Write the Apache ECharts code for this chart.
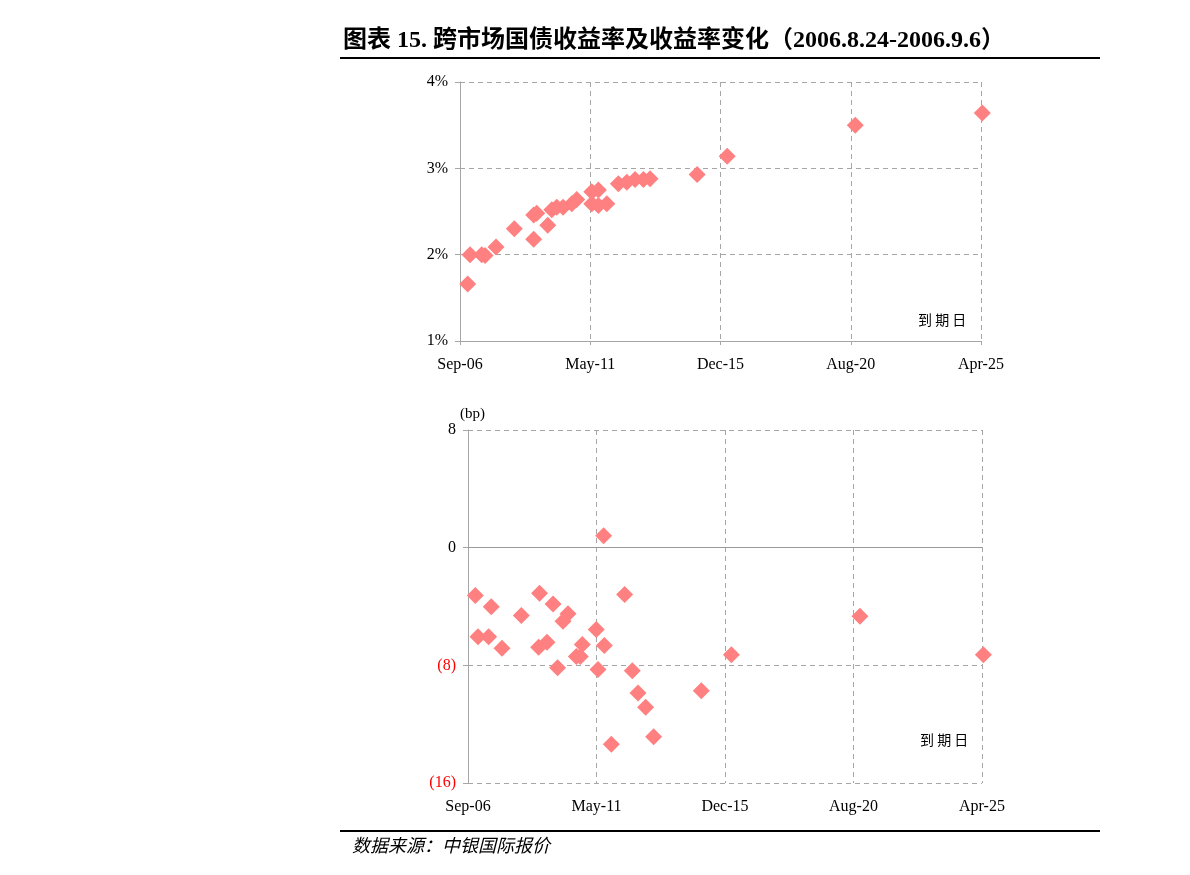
<!DOCTYPE html>
<html>
<head>
<meta charset="utf-8">
<script src="https://cdn.jsdelivr.net/npm/echarts@6/dist/echarts.min.js"></script>
<style>
html,body{margin:0;padding:0;background:#fff;}
#chart{width:1190px;height:875px;}
</style>
</head>
<body>
<div id="chart"></div>
<script>
// x values: days to maturity counted from 2006-09-06 (axis start)
const tickLabels = ['Sep-06', 'May-11', 'Dec-15', 'Aug-20', 'Apr-25'];
const tickStepDays = 1700;

// Top chart: yield (%) by maturity
const yieldDays = [100,131,283,327,470,709,962,962,1002,1145,1198,1263,1345,1459,1524,1720,1806,1720,1806,1916,2067,2177,2285,2394,2481,3095,3487,5159,6817];
const yieldPct  = [1.66,2.00,2.00,1.99,2.09,2.30,2.18,2.46,2.48,2.34,2.52,2.55,2.55,2.59,2.64,2.73,2.75,2.59,2.57,2.59,2.82,2.84,2.87,2.87,2.88,2.93,3.14,3.50,3.64];

// Bottom chart: yield change (bp) by maturity
const changeDays = [97,132,273,308,450,705,934,947,1045,1125,1185,1257,1323,1433,1486,1512,1697,1720,1794,1803,1896,2072,2174,2249,2350,2456,3087,3484,5185,6818];
const changeBp   = [-3.26,-6.05,-6.05,-4.01,-6.84,-4.62,-6.77,-3.10,-6.43,-3.83,-8.17,-5.00,-4.50,-7.40,-7.40,-6.59,-5.57,-8.29,0.81,-6.66,-13.36,-3.19,-8.36,-9.88,-10.85,-12.86,-9.73,-7.28,-4.67,-7.28];

const titleText = '图表 15. 跨市场国债收益率及收益率变化（2006.8.24-2006.9.6）';
const sourceText = '数据来源：中银国际报价';
const xName = '到 期 日';
const yUnit = '(bp)';

const pts = (xs, ys) => xs.map((x, i) => [x, ys[i]]);
const gridColor = '#A6A6A6';
const serif = "'Liberation Serif','Times New Roman',serif";
const markColor = '#FF8080';

const xAxisBase = (gi) => ({
  type: 'value', gridIndex: gi, min: 0, max: tickStepDays * 4, interval: tickStepDays,
  axisLabel: {
    fontFamily: serif, fontSize: 16, color: '#000', margin: 16,
    formatter: v => tickLabels[Math.round(v / tickStepDays)] || ''
  },
  splitLine: { show: true, lineStyle: { color: gridColor, type: [5, 4], width: 1 } }
});

const chart = echarts.init(document.getElementById('chart'));
chart.setOption({
  animation: false,
  backgroundColor: '#fff',
  grid: [
    { left: 460, top: 82, width: 521, height: 259 },
    { left: 468, top: 430, width: 514, height: 353 }
  ],
  xAxis: [
    Object.assign(xAxisBase(0), {
      axisLine: { show: true, lineStyle: { color: gridColor } },
      axisTick: { show: true, length: 4, lineStyle: { color: gridColor } }
    }),
    Object.assign(xAxisBase(1), {
      axisLine: { show: false },
      axisTick: { show: false }
    })
  ],
  yAxis: [
    {
      type: 'value', gridIndex: 0, min: 1, max: 4, interval: 1,
      axisLine: { show: true, lineStyle: { color: gridColor } },
      axisTick: { show: true, length: 5, lineStyle: { color: gridColor } },
      axisLabel: { fontFamily: serif, fontSize: 16, color: '#000', margin: 12, formatter: v => v + '%' },
      splitLine: { show: true, lineStyle: { color: gridColor, type: [5, 4], width: 1 } }
    },
    {
      type: 'value', gridIndex: 1, min: -16, max: 8, interval: 8,
      name: yUnit, nameLocation: 'end', nameGap: 8,
      nameTextStyle: { fontFamily: serif, fontSize: 15, color: '#000', align: 'left', padding: [0, 0, 0, -8] },
      axisLine: { show: true, lineStyle: { color: gridColor } },
      axisTick: { show: true, length: 5, lineStyle: { color: gridColor } },
      axisLabel: {
        fontFamily: serif, fontSize: 16, color: '#000', margin: 12,
        formatter: v => v < 0 ? '{neg|(' + (-v) + ')}' : String(v),
        rich: { neg: { fontFamily: serif, fontSize: 16, color: '#FF0000' } }
      },
      splitLine: { show: true, lineStyle: { color: gridColor, type: [5, 4], width: 1 } }
    }
  ],
  series: [
    {
      type: 'scatter', xAxisIndex: 0, yAxisIndex: 0, clip: false,
      symbol: 'diamond', symbolSize: 17,
      itemStyle: { color: markColor, opacity: 1 },
      data: pts(yieldDays, yieldPct)
    },
    {
      type: 'scatter', xAxisIndex: 1, yAxisIndex: 1, clip: false,
      symbol: 'diamond', symbolSize: 17,
      itemStyle: { color: markColor, opacity: 1 },
      markLine: {
        silent: true, symbol: ['none', 'none'], label: { show: false },
        lineStyle: { color: '#999999', type: 'solid', width: 1 },
        data: [{ yAxis: 0 }]
      },
      data: pts(changeDays, changeBp)
    }
  ],
  graphic: [
    { type: 'text', left: 343, top: 29,
      style: { text: titleText, font: "bold 24px 'Liberation Serif','Noto Sans CJK SC',serif", fill: '#000' } },
    { type: 'rect', shape: { x: 340, y: 57, width: 760, height: 2 }, style: { fill: '#000' } },
    { type: 'text', left: 918, top: 313,
      style: { text: xName, font: "14px 'Noto Sans CJK SC',sans-serif", fill: '#000' } },
    { type: 'text', left: 920, top: 733,
      style: { text: xName, font: "14px 'Noto Sans CJK SC',sans-serif", fill: '#000' } },
    { type: 'rect', shape: { x: 340, y: 830, width: 760, height: 2 }, style: { fill: '#000' } },
    { type: 'text', left: 352, top: 836,
      style: { text: sourceText, font: "italic 18px 'Noto Sans CJK SC',sans-serif", fill: '#000' } }
  ]
});
</script>
</body>
</html>
